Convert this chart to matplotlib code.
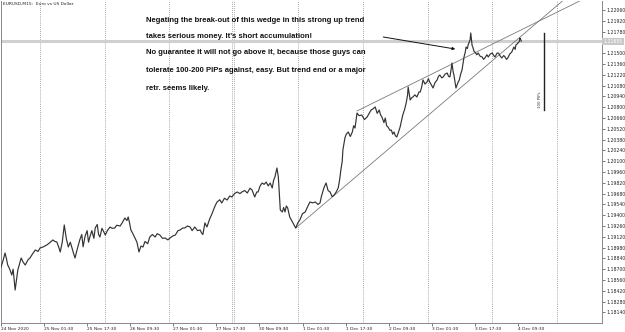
import numpy as np
import matplotlib.pyplot as plt

# EURUSD M15: bar index (M15 bars) and price
bars = [0, 3, 6, 8, 10, 13, 16, 18, 21, 23, 25, 28, 30, 33, 36, 40, 43, 47, 51, 55,
        58, 63, 68, 72, 77, 80, 83, 86, 88, 91, 94, 97, 100, 103, 105, 108, 110, 113, 117, 120,
        122, 125, 128, 130, 132, 135, 138, 140, 143, 145, 147, 150, 153, 155, 158, 162, 165, 169, 172, 177,
        180, 184, 187, 189, 191, 193, 196, 199, 202, 205, 208, 211, 214, 218, 221, 225, 229, 232, 236, 240,
        244, 248, 251, 255, 259, 263, 266, 270, 273, 277, 281, 284, 288, 292, 296, 298, 300, 303, 306, 310,
        314, 318, 321, 325, 328, 332, 336, 340, 343, 347, 351, 355, 358, 362, 366, 370, 373, 377, 380, 382,
        385, 388, 391, 394, 397, 400, 403, 405, 407, 410, 412, 413, 415, 418, 420, 422, 424, 426, 429, 432,
        435, 437, 438, 441, 444, 448, 452, 455, 459, 463, 467, 471, 474, 476, 478, 480, 483, 486, 489, 492,
        495, 498, 501, 503, 505, 507, 508, 511, 513, 516, 519, 522, 524, 526, 529, 532, 536, 540, 544, 547,
        550, 553, 556, 559, 562, 564, 566, 569, 571, 573, 575, 578, 580, 582, 584, 586, 588, 590, 593, 595,
        597, 600, 602, 604, 605, 607, 608, 610, 612, 615, 618, 621, 623, 625, 627, 630, 633, 635, 637, 640,
        642, 645, 648, 650, 652, 655, 657, 660, 663, 665, 667, 669, 670, 672, 673, 675, 676, 679, 681, 683,
        685, 687, 688, 690, 691, 693, 694, 696, 697, 698, 700, 701, 703, 704, 707, 709, 712, 715, 717, 719,
        722, 724, 727, 730, 732, 734, 737, 739, 742, 744, 747, 749, 751, 753, 756, 759, 761, 762, 764, 765,
        767, 768, 770, 771, 772, 773]
prices = [1.18728, 1.18810, 1.18910, 1.18840, 1.18754, 1.18700, 1.18625, 1.18700, 1.18430, 1.18560,
          1.18690, 1.18780, 1.18845, 1.18790, 1.18754, 1.18820, 1.18845, 1.18900, 1.18949, 1.18930,
          1.18975, 1.18990, 1.19014, 1.19040, 1.19079, 1.19060, 1.19053, 1.18980, 1.18923, 1.19050,
          1.19273, 1.19100, 1.18988, 1.19050, 1.18988, 1.18900, 1.18845, 1.18950, 1.19079, 1.19150,
          1.18990, 1.19130, 1.19200, 1.19050, 1.19117, 1.19200, 1.19100, 1.19234, 1.19280, 1.19150,
          1.19117, 1.19230, 1.19180, 1.19143, 1.19200, 1.19247, 1.19230, 1.19234, 1.19270, 1.19260,
          1.19300, 1.19364, 1.19330, 1.19377, 1.19300, 1.19208, 1.19160, 1.19104, 1.19050, 1.18923,
          1.19000, 1.18988, 1.19060, 1.19030, 1.19117, 1.19150, 1.19117, 1.19160, 1.19143, 1.19100,
          1.19104, 1.19080, 1.19104, 1.19130, 1.19143, 1.19200, 1.19208, 1.19234, 1.19234, 1.19260,
          1.19247, 1.19200, 1.19247, 1.19200, 1.19208, 1.19169, 1.19150, 1.19300, 1.19247, 1.19350,
          1.19429, 1.19520, 1.19571, 1.19600, 1.19558, 1.19620, 1.19597, 1.19650, 1.19636, 1.19680,
          1.19701, 1.19680, 1.19701, 1.19720, 1.19688, 1.19750, 1.19727, 1.19636, 1.19701, 1.19701,
          1.19780, 1.19817, 1.19800, 1.19830, 1.19780, 1.19817, 1.19753, 1.19850, 1.19895, 1.20012,
          1.19900, 1.19766, 1.19467, 1.19442, 1.19500, 1.19442, 1.19520, 1.19493, 1.19377, 1.19330,
          1.19280, 1.19247, 1.19234, 1.19300, 1.19338, 1.19420, 1.19442, 1.19500, 1.19571, 1.19560,
          1.19571, 1.19540, 1.19558, 1.19640, 1.19701, 1.19760, 1.19817, 1.19720, 1.19701, 1.19640,
          1.19662, 1.19700, 1.19753, 1.19850, 1.19986, 1.20100, 1.20245, 1.20401, 1.20450, 1.20479,
          1.20420, 1.20479, 1.20560, 1.20530, 1.20725, 1.20690, 1.20699, 1.20640, 1.20673, 1.20720,
          1.20764, 1.20780, 1.20803, 1.20720, 1.20764, 1.20700, 1.20673, 1.20600, 1.20660, 1.20560,
          1.20543, 1.20500, 1.20504, 1.20450, 1.20479, 1.20430, 1.20414, 1.20460, 1.20543, 1.20620,
          1.20699, 1.20780, 1.20854, 1.20950, 1.21062, 1.20950, 1.20893, 1.20920, 1.20932, 1.20960,
          1.20932, 1.20997, 1.20997, 1.21060, 1.21153, 1.21100, 1.21127, 1.21170, 1.21127, 1.21080,
          1.21049, 1.21120, 1.21153, 1.21200, 1.21217, 1.21180, 1.21192, 1.21230, 1.21243, 1.21200,
          1.21192, 1.21300, 1.21373, 1.21250, 1.21217, 1.21100, 1.21049, 1.21120, 1.21153, 1.21230,
          1.21282, 1.21400, 1.21451, 1.21520, 1.21580, 1.21560, 1.21606, 1.21650, 1.21671, 1.21762,
          1.21600, 1.21580, 1.21520, 1.21516, 1.21480, 1.21503, 1.21460, 1.21451, 1.21420, 1.21438,
          1.21480, 1.21451, 1.21490, 1.21503, 1.21470, 1.21451, 1.21500, 1.21503, 1.21460, 1.21438,
          1.21470, 1.21451, 1.21420, 1.21438, 1.21490, 1.21516, 1.21560, 1.21580, 1.21550, 1.21606,
          1.21620, 1.21632, 1.21650, 1.21697, 1.21680, 1.21655]

tick_bars = [0, 64, 128, 192, 256, 320, 384, 448, 512, 576, 640, 704, 768]
tick_labels = ['24 Nov 2020', '25 Nov 01:30', '25 Nov 17:30', '26 Nov 09:30', '27 Nov 01:30',
               '27 Nov 17:30', '30 Nov 09:30', '1 Dec 01:30', '1 Dec 17:30', '2 Dec 09:30',
               '3 Dec 01:30', '3 Dec 17:30', '4 Dec 09:30']
day_bars = [58, 154, 250, 343, 346, 442, 538, 634, 730, 826]
price_ticks = [round(1.22060 - 0.0014 * k, 5) for k in range(29)]

# wedge trend lines (two anchor points each) and the 100 pips ruler
lower_line = [(438, 1.19234), (801, 1.21930)]
upper_line = [(529, 1.20751), (771, 1.21794)]
ruler_bar, ruler_top, ruler_pips = 807, 1.21764, 100
arrow_from, arrow_to = (568, 1.21710), (675, 1.21554)

notes = ['Negating the break-out of this wedge in this strong up trend',
         "takes serious money. It's short accumulation!",
         'No guarantee it will not go above it, because those guys can',
         'tolerate 100-200 PIPs against, easy. But trend end or a major',
         'retr. seems likely.']
note_y = [20, 36, 53, 71, 89]

W, H = 625, 332
Y0, Y1 = 1.180026, 1.221767
fig = plt.figure(figsize=(W / 100, H / 100), dpi=100)
ax = fig.add_axes([1 / W, 9 / H, 601 / W, 322 / H])

ax.set_xlim(0, 893)
ax.set_ylim(Y0, Y1)

for b in day_bars:
    ax.axvline(b, color='#8a8a8a', lw=0.6, ls=(0, (1, 1.5)), zorder=1)

last = prices[-1]
ax.axhline(last, color='#d0d0d0', lw=2.2, zorder=1)

ax.plot(bars, prices, color='#333333', lw=0.85, zorder=3)

def ray(p1, p2, x_end=893):
    slope = (p2[1] - p1[1]) / (p2[0] - p1[0])
    return [p1[0], x_end], [p1[1], p1[1] + slope * (x_end - p1[0])]

for ln in (lower_line, upper_line):
    xs, ys = ray(*ln)
    ax.plot(xs, ys, color='#7a7a7a', lw=0.6, zorder=2)

ax.plot([ruler_bar, ruler_bar], [ruler_top, ruler_top - ruler_pips * 0.0001],
        color='#222222', lw=1.0, zorder=4)
ax.text(ruler_bar - 3, ruler_top - 0.0087, '%d PIPs' % ruler_pips, rotation=90,
        fontsize=2.8, ha='right', va='center', color='#333333')

ax.annotate('', xy=arrow_to, xytext=arrow_from,
            arrowprops=dict(arrowstyle='-|>', color='#111111', lw=0.7,
                            mutation_scale=4, shrinkA=0, shrinkB=0))

ax.set_xticks(tick_bars)
ax.set_xticklabels(tick_labels, fontsize=3.2, ha='left', color='#222222')
ax.yaxis.tick_right()
ax.set_yticks(price_ticks)
# the current-price tag takes the place of the nearest scale label
ax.set_yticklabels(['' if abs(p - last) < 0.0007 else '%.5f' % p for p in price_ticks],
                   fontsize=3.3, color='#222222')
ax.tick_params(axis='both', length=2, width=0.5, pad=1, colors='#444444', labelcolor='#222222')
for s in ax.spines.values():
    s.set_color('#888888')
    s.set_linewidth(0.7)
ax.spines['top'].set_visible(False)

ax.text(1.002, (last - Y0) / (Y1 - Y0), '%.5f' % last,
        transform=ax.transAxes, fontsize=3.3, color='white', va='center', ha='left',
        bbox=dict(boxstyle='square,pad=0.25', fc='#c8c8c8', ec='none'))

fig.text(3 / W, 1 - 4 / H, 'EURUSD,M15:  Euro vs US Dollar', fontsize=3.2,
         va='center', ha='left', color='#222222')

for t, yy in zip(notes, note_y):
    fig.text(146 / W, 1 - yy / H, t, fontsize=5.5, fontweight='bold',
             family='Liberation Sans', va='center', ha='left', color='#111111')

fig.savefig('out.png', dpi=100)
